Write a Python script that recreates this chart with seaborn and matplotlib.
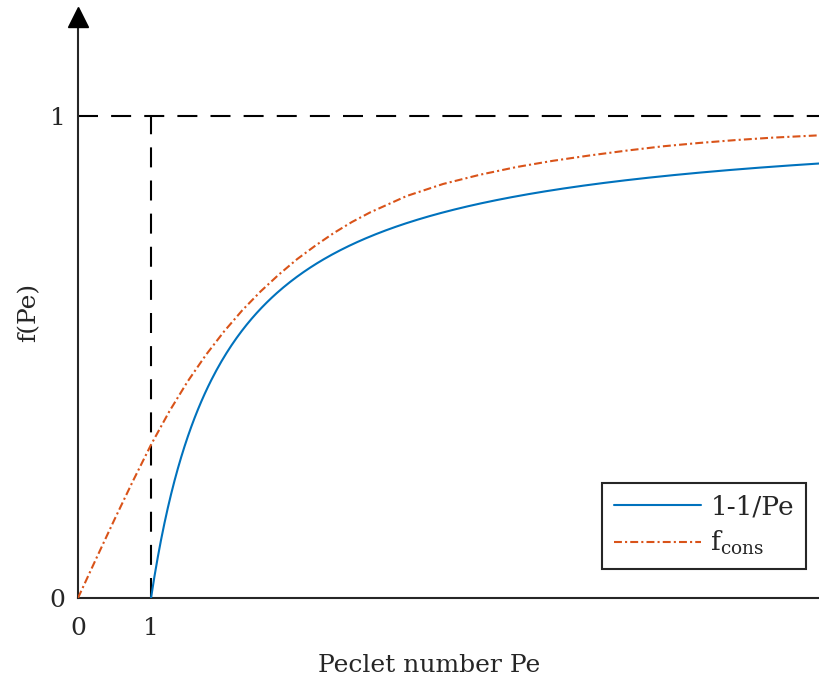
import numpy as np
import pandas as pd
import matplotlib
matplotlib.use("Agg")
import matplotlib.pyplot as plt
import seaborn as sns

# Peclet numbers and the conservative scheme's factor f_cons
pe_cons = [0.0, 0.25, 0.5, 0.75, 1.0, 1.25, 1.5, 1.75, 2.0, 2.25, 2.5, 2.75,
           3.0, 3.25, 3.5, 3.75, 4.0, 4.5, 5.0, 5.5, 6.0, 6.5, 7.0, 7.5,
           8.0, 8.5, 9.0, 9.5, 10.16]
f_cons = [0.0, 0.082, 0.163, 0.242, 0.318, 0.387, 0.449, 0.504, 0.553, 0.597,
          0.636, 0.671, 0.703, 0.731, 0.757, 0.780, 0.800, 0.834, 0.859, 0.878,
          0.894, 0.907, 0.918, 0.928, 0.937, 0.944, 0.950, 0.955, 0.960]

# 1 - 1/Pe on Pe >= 1
pe_ref = np.linspace(1.0, 10.16, 400)
f_ref = 1.0 - 1.0 / pe_ref

x_ticks = [0, 1]
y_ticks = [0, 1]
x_label = "Peclet number Pe"
y_label = "f(Pe)"
label_ref = "1-1/Pe"
label_cons = r"f$_{\mathrm{cons}}$"

sns.set_theme(style="white")
plt.rcParams["font.family"] = ["DejaVu Serif"]
plt.rcParams["mathtext.fontset"] = "dejavuserif"
plt.rcParams["text.color"] = "#262626"

ink = "#262626"
blue = "#0072BD"
orange = "#D95319"
fs = 18

fig = plt.figure(figsize=(8.2, 6.8), dpi=100)
W, H = 820, 680
ax = fig.add_axes([78 / W, (H - 598) / H, (820 - 78) / W, (598 - 26) / H])

df_ref = pd.DataFrame({"Pe": pe_ref, "f": f_ref})
df_cons = pd.DataFrame({"Pe": pe_cons, "f": f_cons})

# dashed guides at f = 1 and Pe = 1
ax.axhline(1.0, color="black", lw=1.5, dashes=(9.6, 6.3), zorder=1)
ax.plot([1, 1], [0, 1], color="black", lw=1.5, dashes=(9.6, 6.3), zorder=1)

sns.lineplot(data=df_ref, x="Pe", y="f", ax=ax, color=blue, lw=1.5,
             label=label_ref, estimator=None, sort=False, zorder=3)
sns.lineplot(data=df_cons, x="Pe", y="f", ax=ax, color=orange, lw=1.5,
             label=label_cons, estimator=None, sort=False, zorder=3)
ax.lines[-1].set_dashes((3.8, 1.5, 1.0, 1.5))

ax.set_xlim(0, 10.16)
ax.set_ylim(0, (598 - 26) / 482)
ax.set_xticks(x_ticks)
ax.set_yticks(y_ticks)
ax.set_xticklabels([str(v) for v in x_ticks])
ax.set_yticklabels([str(v) for v in y_ticks])
ax.tick_params(axis="x", direction="in", length=5, width=1.2, colors=ink,
               labelsize=fs, pad=14)
ax.tick_params(axis="y", direction="in", length=5, width=1.2, colors=ink,
               labelsize=fs, pad=9)

for side in ("top", "right"):
    ax.spines[side].set_visible(False)
for side in ("left", "bottom"):
    ax.spines[side].set_color(ink)
    ax.spines[side].set_linewidth(1.5)

# arrow heads at the ends of both axes
ax.plot([0], [1.0 + 9 / 572], marker="^", ms=14, color="black",
        transform=ax.get_xaxis_transform(), clip_on=False, zorder=5)
ax.plot([1.0 + 12 / 742], [0], marker=">", ms=15, color="black",
        transform=ax.get_yaxis_transform(), clip_on=False, zorder=5)

ax.set_xlabel(x_label, fontsize=fs, color=ink)
ax.set_ylabel(y_label, fontsize=fs, color=ink)
ax.xaxis.set_label_coords((429 - 78) / 742, -(654 - 598) / 572)
ax.yaxis.set_label_coords((40 - 78) / 742, 0.5)

leg = ax.legend(loc="lower right", bbox_to_anchor=((806 - 78) / 742, (598 - 569) / 572),
                borderaxespad=0, fontsize=19, frameon=True, fancybox=False,
                handlelength=3.3, handletextpad=0.35, labelspacing=0.35,
                borderpad=0.45)
leg.get_frame().set_edgecolor(ink)
leg.get_frame().set_linewidth(1.5)
leg.get_frame().set_alpha(1)

fig.savefig("out.png", dpi=100)
